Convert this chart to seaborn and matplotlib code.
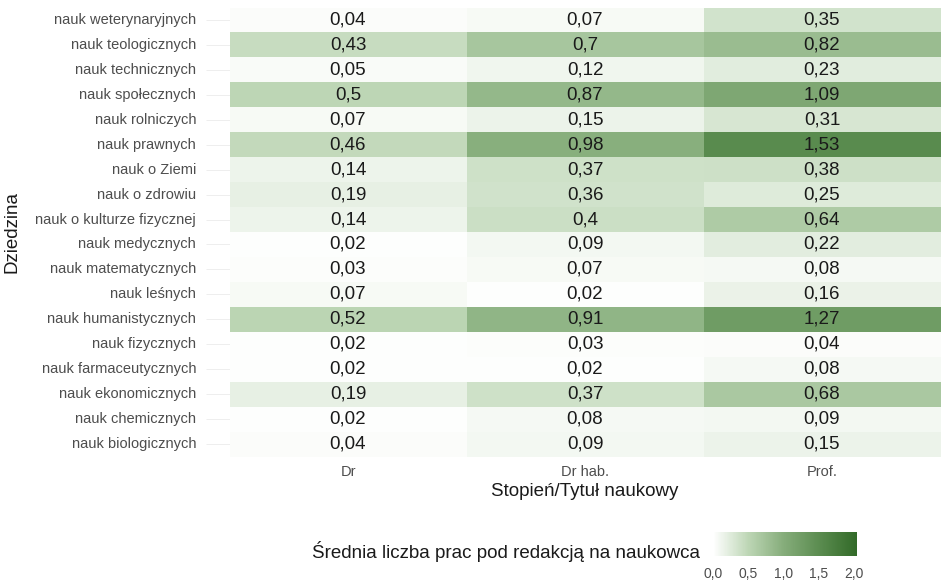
import numpy as np
import pandas as pd
import matplotlib
matplotlib.use("Agg")
import matplotlib.pyplot as plt
import seaborn as sns
from matplotlib.colors import LinearSegmentedColormap

fields = ["nauk weterynaryjnych", "nauk teologicznych", "nauk technicznych",
          "nauk społecznych", "nauk rolniczych", "nauk prawnych", "nauk o Ziemi",
          "nauk o zdrowiu", "nauk o kulturze fizycznej", "nauk medycznych",
          "nauk matematycznych", "nauk leśnych", "nauk humanistycznych",
          "nauk fizycznych", "nauk farmaceutycznych", "nauk ekonomicznych",
          "nauk chemicznych", "nauk biologicznych"]
degrees = ["Dr", "Dr hab.", "Prof."]

dr = [0.04, 0.43, 0.05, 0.5, 0.07, 0.46, 0.14, 0.19, 0.14, 0.02,
      0.03, 0.07, 0.52, 0.02, 0.02, 0.19, 0.02, 0.04]
dr_hab = [0.07, 0.7, 0.12, 0.87, 0.15, 0.98, 0.37, 0.36, 0.4, 0.09,
          0.07, 0.02, 0.91, 0.03, 0.02, 0.37, 0.08, 0.09]
prof = [0.35, 0.82, 0.23, 1.09, 0.31, 1.53, 0.38, 0.25, 0.64, 0.22,
        0.08, 0.16, 1.27, 0.04, 0.08, 0.68, 0.09, 0.15]

df = pd.DataFrame({"Dr": dr, "Dr hab.": dr_hab, "Prof.": prof}, index=fields)
labels = df.map(lambda v: f"{v:g}".replace(".", ","))

vmax = 2.05
cmap = LinearSegmentedColormap.from_list(
    "greens", [(0, "#ffffff"), (0.5 / vmax, "#bdd6b5"), (1.0 / vmax, "#86ad7b"),
               (1.5 / vmax, "#5c8d51"), (1.0, "#326a28")])

sns.set_theme(style="white")
plt.rcParams["font.family"] = ["Liberation Sans", "DejaVu Sans"]

fig = plt.figure(figsize=(9.41, 5.84), dpi=100)
ax = fig.add_axes([229.5 / 941, 1 - 456.5 / 584, 711 / 941, 449 / 584])
cax = fig.add_axes([713 / 941, 1 - 556 / 584, 144 / 941, 24 / 584])

sns.heatmap(df, ax=ax, cmap=cmap, vmin=0, vmax=vmax, annot=labels, fmt="",
            annot_kws={"fontsize": 13.5, "color": "#1a1a1a"},
            cbar_ax=cax, cbar_kws={"orientation": "horizontal", "ticks": [0, 0.5, 1, 1.5, 2]})

ax.tick_params(axis="y", length=17, width=0.6, color="#ebebeb", labelsize=10.5,
               labelcolor="#4d4d4d", pad=7, left=True)
ax.tick_params(axis="x", length=0, labelsize=10.5, labelcolor="#4d4d4d", pad=6)
ax.set_yticklabels(fields, rotation=0)
ax.set_xticklabels(degrees, rotation=0)
ax.set_ylabel("Dziedzina", fontsize=13.5, color="#1a1a1a")
ax.yaxis.set_label_coords((20 - 229.5) / 711, 0.5)
ax.set_xlabel("Stopień/Tytuł naukowy", fontsize=13.5, color="#1a1a1a", labelpad=3)

cb = ax.collections[0].colorbar
cb.outline.set_visible(False)
cax.tick_params(axis="x", length=5, width=0.8, color="white", direction="in",
                labelsize=10, labelcolor="#4d4d4d", pad=8, bottom=True, top=True)
cb.set_ticklabels(["0,0", "0,5", "1,0", "1,5", "2,0"])
fig.text(700 / 941, 1 - 551 / 584, "Średnia liczba prac pod redakcją na naukowca",
         ha="right", va="center", fontsize=13.5, color="#1a1a1a")

fig.savefig("out.png", dpi=100)
